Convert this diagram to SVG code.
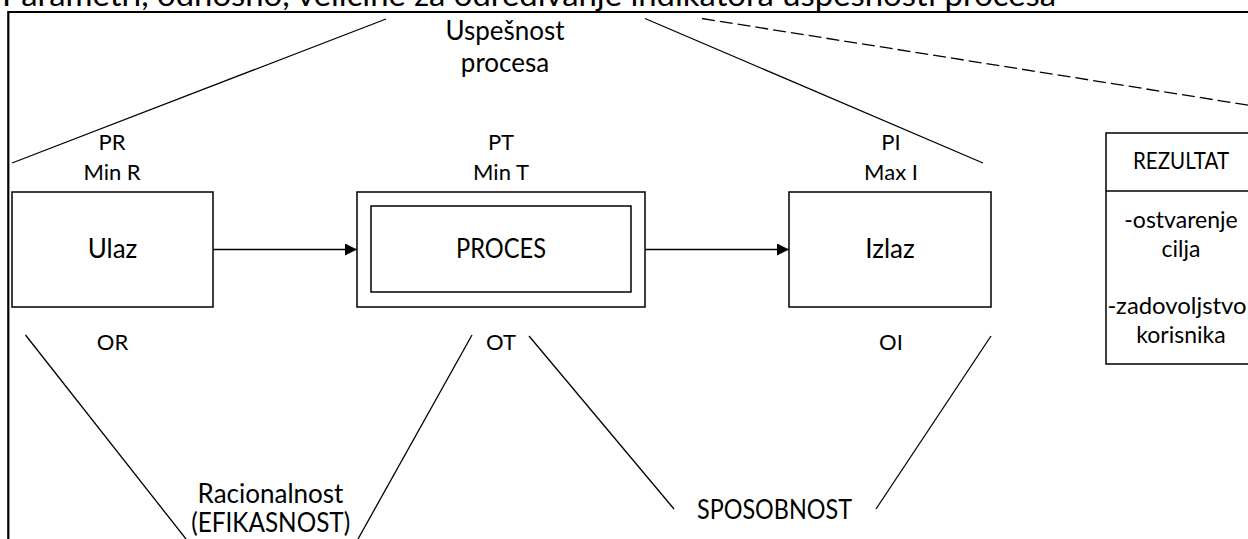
<svg xmlns="http://www.w3.org/2000/svg" width="1248" height="539" viewBox="0 0 1248 539">
<style>
  text { font-family: Lato, "Open Sans", sans-serif; fill: #000; text-anchor: middle; }
  .big { font-size: 26px; }
  .sm { font-size: 22px; }
  .rz { font-size: 23px; }
  .box { fill: #fff; stroke: #000; stroke-width: 1.5; }
  .ln { stroke: #000; stroke-width: 1.3; fill: none; }
  .frame { stroke: #000; stroke-width: 2.2; fill: none; }
</style>
<defs>
  <marker id="arr" markerUnits="userSpaceOnUse" markerWidth="13" markerHeight="13" refX="12" refY="6" orient="auto">
    <path d="M0,0 L12,6 L0,12 Z" fill="#000"/>
  </marker>
</defs>
<rect width="1248" height="539" fill="#fff"/>
<text x="2" y="6" style="text-anchor:start;font-size:30px" textLength="1054" lengthAdjust="spacingAndGlyphs">Parametri, odnosno, veličine za određivanje indikatora uspešnosti procesa</text>
<path class="frame" d="M8.3,539 L8.3,12 L1248,12"/>

<g id="connectors">
  <line class="ln" x1="213" y1="249.5" x2="357" y2="249.5" marker-end="url(#arr)"/>
  <line class="ln" x1="645" y1="249.5" x2="789" y2="249.5" marker-end="url(#arr)"/>
  <line class="ln" x1="12" y1="163" x2="386" y2="19"/>
  <line class="ln" x1="645" y1="18.5" x2="983" y2="163"/>
  <line class="ln" x1="702" y1="18.5" x2="1260" y2="107" stroke-dasharray="13 5"/>
  <line class="ln" x1="25.5" y1="335" x2="186" y2="539"/>
  <line class="ln" x1="472" y1="335" x2="358" y2="539"/>
  <line class="ln" x1="529" y1="336" x2="674" y2="509"/>
  <line class="ln" x1="991" y1="336" x2="876" y2="509"/>
</g>

<g id="ulaz">
  <rect class="box" x="12" y="192" width="201" height="115"/>
  <text class="big" x="112.5" y="258">Ulaz</text>
</g>
<g id="proces">
  <rect class="box" x="357" y="192" width="288" height="115"/>
  <rect class="box" x="371" y="206" width="260" height="86"/>
  <text class="big" x="501" y="258" textLength="90" lengthAdjust="spacingAndGlyphs">PROCES</text>
</g>
<g id="izlaz">
  <rect class="box" x="789" y="192" width="202" height="115"/>
  <text class="big" x="890" y="258">Izlaz</text>
</g>
<g id="rezultat">
  <rect class="box" x="1106" y="133" width="150" height="231"/>
  <line class="box" x1="1106" y1="191" x2="1256" y2="191"/>
  <text class="rz" x="1181" y="169" textLength="96" lengthAdjust="spacingAndGlyphs">REZULTAT</text>
  <text class="rz" x="1181" y="228">-ostvarenje</text>
  <text class="rz" x="1181" y="257">cilja</text>
  <text class="rz" x="1177" y="314" textLength="139" lengthAdjust="spacingAndGlyphs">-zadovoljstvo</text>
  <text class="rz" x="1181" y="343">korisnika</text>
</g>
<g id="uspesnost">
  <text class="big" x="505" y="40">Uspešnost</text>
  <text class="big" x="505" y="72">procesa</text>
</g>
<g id="label-pr">
  <text class="sm" x="112" y="150">PR</text>
  <text class="sm" x="112" y="180">Min R</text>
</g>
<g id="label-pt">
  <text class="sm" x="501" y="150">PT</text>
  <text class="sm" x="501" y="180">Min T</text>
</g>
<g id="label-pi">
  <text class="sm" x="891" y="150">PI</text>
  <text class="sm" x="891" y="180">Max I</text>
</g>
<g id="label-or"><text class="sm" x="112.5" y="350">OR</text></g>
<g id="label-ot"><text class="sm" x="501" y="350">OT</text></g>
<g id="label-oi"><text class="sm" x="891" y="350">OI</text></g>
<g id="racionalnost">
  <text class="big" x="270.5" y="503">Racionalnost</text>
  <text class="big" x="270.7" y="532" textLength="159" lengthAdjust="spacingAndGlyphs">(EFIKASNOST)</text>
</g>
<g id="sposobnost">
  <text class="big" x="774.5" y="519" textLength="155" lengthAdjust="spacingAndGlyphs">SPOSOBNOST</text>
</g>
</svg>
